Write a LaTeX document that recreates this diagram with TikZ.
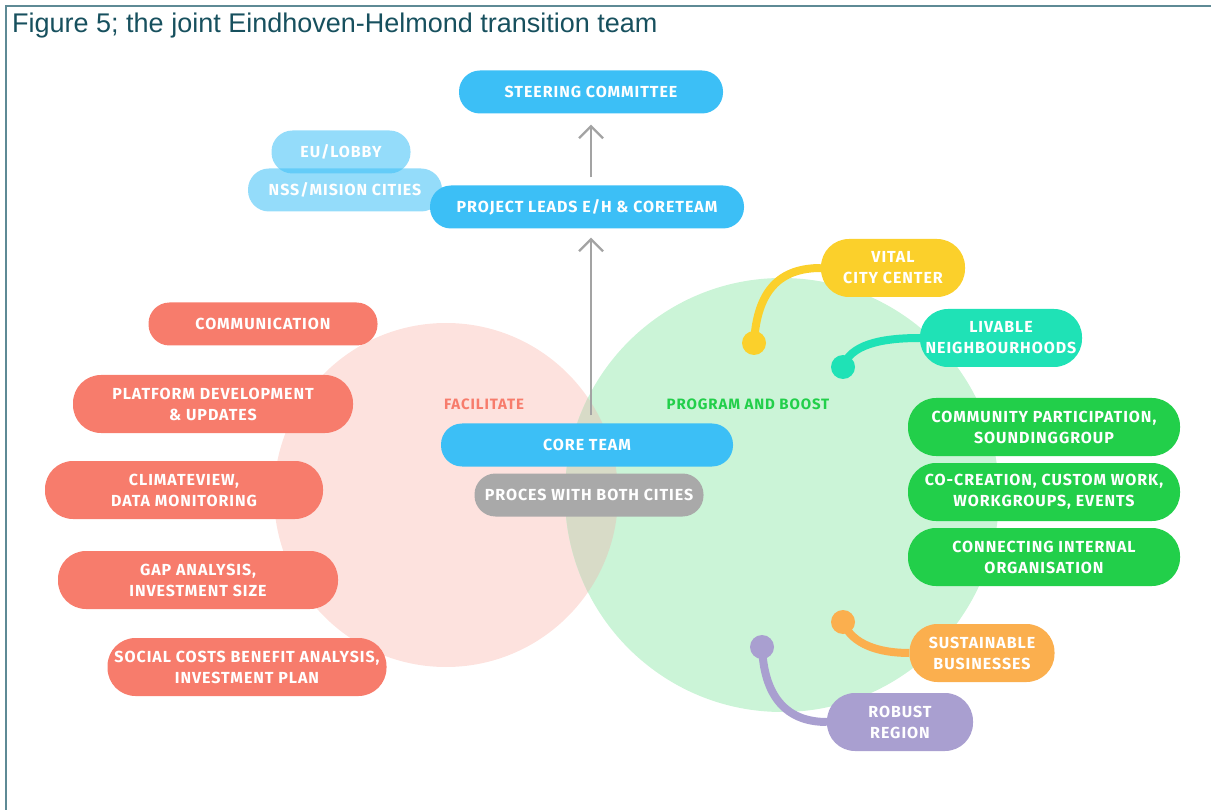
\documentclass[tikz,border=0pt]{standalone}
\usepackage{fontspec}
\setmainfont{Liberation Sans}
\newfontfamily\boxfont[LetterSpace=6]{Fira Sans}
\usetikzlibrary{arrows.meta}
\definecolor{frameline}{HTML}{5E8A95}
\definecolor{titletext}{HTML}{17505E}
\definecolor{skyblue}{HTML}{3CBFF6}
\definecolor{salmon}{HTML}{F77C6C}
\definecolor{pinkzone}{HTML}{FDE2DE}
\definecolor{greenzone}{HTML}{CBF4D7}
\definecolor{mixzone}{HTML}{D8DBC7}
\definecolor{boostgreen}{HTML}{22CF4A}
\definecolor{procgray}{HTML}{A9A9A9}
\definecolor{vitalyellow}{HTML}{FBD02B}
\definecolor{livteal}{HTML}{1FE2B6}
\definecolor{bizorange}{HTML}{FBAF4E}
\definecolor{robustpurple}{HTML}{A99FD0}
\definecolor{arrowgray}{HTML}{A3A3A3}
\tikzset{
  pill/.style={rectangle, rounded corners=21pt, minimum height=43pt, inner sep=0pt,
    text=white, align=center, font=\boxfont\bfseries\fontsize{16}{21}\selectfont},
  tallpill/.style={pill, rounded corners=28pt, minimum height=58pt},
  zonelabel/.style={font=\boxfont\bfseries\fontsize{15}{18}\selectfont},
  dot/.style={circle, fill=#1, minimum size=24pt, inner sep=0pt},
  link/.style={draw=#1, line width=8pt},
  uparrow/.style={draw=arrowgray, line width=2.2pt, -{Straight Barb[length=12pt,width=24pt]}}
}
\begin{document}
\begin{tikzpicture}[x=1pt, y=-1pt]
\useasboundingbox (0,0) rectangle (1211,810);
% frame and caption
\draw[frameline, line width=2.5pt] (6,810) -- (6,6) -- (1211,6);
\node[anchor=base west, text=titletext, font=\fontsize{27}{30}\selectfont, inner sep=0pt]
  (caption) at (12,33) {Figure 5; the joint Eindhoven-Helmond transition team};

% the two zones
\fill[pinkzone] (446,495) circle (172);
\fill[greenzone] (782,495) circle (217);
\begin{scope}
  \clip (446,495) circle (172);
  \fill[mixzone] (782,495) circle (217);
\end{scope}
\node[zonelabel, text=salmon] (facil) at (484,404) {FACILITATE};
\node[zonelabel, text=boostgreen] (boost) at (748,404) {PROGRAM AND BOOST};

% top of the structure
\node[pill, fill=skyblue, minimum width=264pt] (steer) at (591,92) {STEERING COMMITTEE};
\node[pill, fill=skyblue, fill opacity=0.55, text opacity=1, minimum width=139pt] (eulobby) at (341,152) {EU/LOBBY};
\node[pill, fill=skyblue, fill opacity=0.55, text opacity=1, minimum width=194pt] (nss) at (345,190) {NSS/MISION CITIES};
\node[pill, fill=skyblue, minimum width=314pt] (leads) at (587,207) {PROJECT LEADS E/H \& CORETEAM};

% centre
\node[pill, fill=skyblue, minimum width=292pt] (core) at (587,445) {CORE TEAM};
\node[pill, fill=procgray, minimum width=229pt] (proces) at (589,495) {PROCES WITH BOTH CITIES};

\draw[uparrow, shorten <=8pt, shorten >=11pt] (leads.north -| steer.south) -- (steer.south);
\draw[uparrow, shorten <=8pt, shorten >=9pt] (core.north -| steer.south) -- (leads.south -| steer.south);

% facilitate side
\node[pill, fill=salmon, minimum width=229pt] (comm) at (263,324) {COMMUNICATION};
\node[tallpill, fill=salmon, minimum width=280pt] (platform) at (213,404) {PLATFORM DEVELOPMENT\\\& UPDATES};
\node[tallpill, fill=salmon, minimum width=278pt] (climate) at (184,490) {CLIMATEVIEW,\\DATA MONITORING};
\node[tallpill, fill=salmon, minimum width=280pt] (gap) at (198,580) {GAP ANALYSIS,\\INVESTMENT SIZE};
\node[tallpill, fill=salmon, minimum width=279pt] (social) at (247,667) {SOCIAL COSTS BENEFIT ANALYSIS,\\INVESTMENT PLAN};

% program and boost side
\node[tallpill, fill=boostgreen, minimum width=272pt] (community) at (1044,427) {COMMUNITY PARTICIPATION,\\SOUNDINGGROUP};
\node[tallpill, fill=boostgreen, minimum width=272pt] (cocreation) at (1044,492) {CO-CREATION, CUSTOM WORK,\\WORKGROUPS, EVENTS};
\node[tallpill, fill=boostgreen, minimum width=272pt] (internal) at (1044,557) {CONNECTING INTERNAL\\ORGANISATION};

\node[tallpill, fill=vitalyellow, minimum width=144pt] (vital) at (893,268) {VITAL\\CITY CENTER};
\node[tallpill, fill=livteal, minimum width=162pt] (livable) at (1001,338) {LIVABLE\\NEIGHBOURHOODS};
\node[tallpill, fill=bizorange, minimum width=145pt] (business) at (982,653) {SUSTAINABLE\\BUSINESSES};
\node[tallpill, fill=robustpurple, minimum width=146pt] (robust) at (900,722) {ROBUST\\REGION};

\node[dot=vitalyellow] (vitaldot) at (754,343) {};
\node[dot=livteal] (livabledot) at (843,367) {};
\node[dot=bizorange] (businessdot) at (843,622) {};
\node[dot=robustpurple] (robustdot) at (762,647) {};

\draw[link=vitalyellow] (vitaldot.center) .. controls (757,290) and (780,268) .. (vital.west);
\draw[link=livteal] (livabledot.center) .. controls (850,345) and (880,338) .. (livable.west);
\draw[link=bizorange] (businessdot.center) .. controls (852,645) and (880,653) .. (business.west);
\draw[link=robustpurple] (robustdot.center) .. controls (764,695) and (785,722) .. (robust.west);
\end{tikzpicture}
\end{document}
